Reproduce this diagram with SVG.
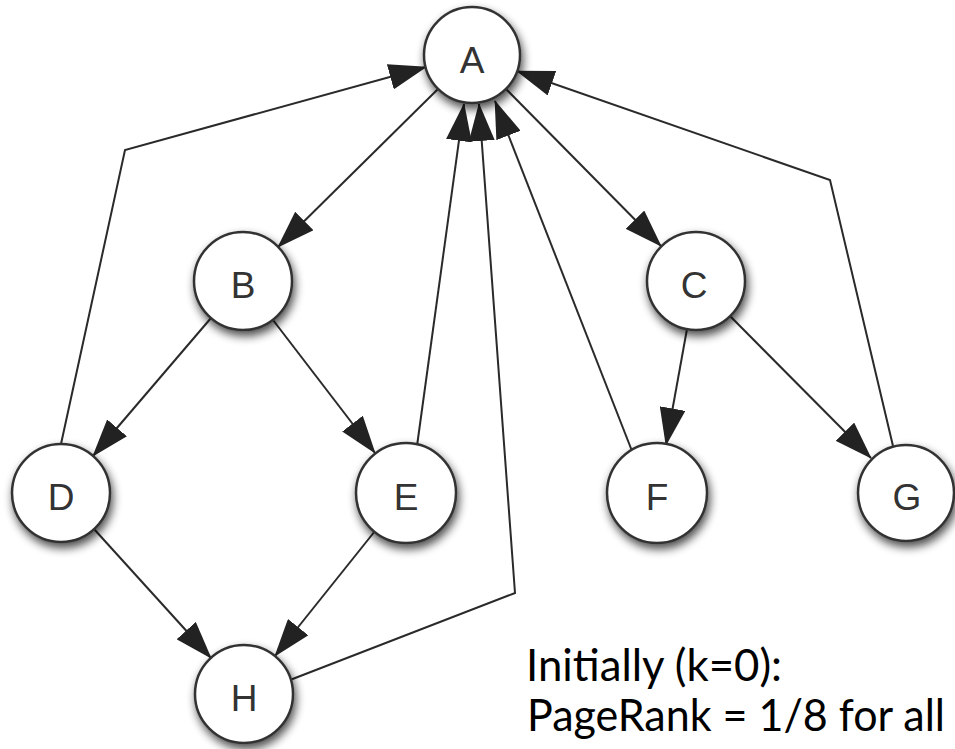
<svg xmlns="http://www.w3.org/2000/svg" width="955" height="749" viewBox="0 0 955 749">
  <defs>
    <filter id="sh" x="-40%" y="-40%" width="180%" height="180%">
      <feGaussianBlur in="SourceAlpha" stdDeviation="5"/>
      <feOffset dx="2" dy="5" result="b"/>
      <feComponentTransfer><feFuncA type="linear" slope="0.7"/></feComponentTransfer>
      <feMerge><feMergeNode/><feMergeNode in="SourceGraphic"/></feMerge>
    </filter>
    <marker id="ah" viewBox="0 0 38 26" refX="37" refY="13" markerWidth="38" markerHeight="26" markerUnits="userSpaceOnUse" orient="auto">
      <path d="M0,0 L38,13 L0,26 z" fill="#222"/>
    </marker>
  </defs>
  <style>
    .edge { fill: none; stroke: #2a2a2a; stroke-width: 2; marker-end: url(#ah); }
    .node circle { fill: #fff; stroke: #333; stroke-width: 2.5; filter: url(#sh); }
    .node text { font-family: "Liberation Sans", Arial, sans-serif; font-size: 37px; fill: #333; text-anchor: middle; }
    .note { font-family: Lato, "Open Sans", sans-serif; font-size: 44px; fill: #000; }
  </style>
  <rect width="955" height="749" fill="#fff"/>
  <g id="connectors">
    <path class="edge" d="M438,89 L278,247"/>
    <path class="edge" d="M506,89 L661,246"/>
    <path class="edge" d="M211,318 L93,456"/>
    <path class="edge" d="M273,320 L375,453"/>
    <path class="edge" d="M687,329 L666,445"/>
    <path class="edge" d="M730,316 L871,458"/>
    <path class="edge" d="M94,529 L211,658"/>
    <path class="edge" d="M375,531 L275,656"/>
    <path class="edge" d="M61,444 L125,150 L426,67"/>
    <path class="edge" d="M893,446 L830,180 L517,71"/>
    <path class="edge" d="M417,446 L464,104"/>
    <path class="edge" d="M290,680 L515,593 L479,104"/>
    <path class="edge" d="M632,451 L495,101"/>
  </g>
  <g id="node-A" class="node"><circle cx="472" cy="55" r="48"/><text x="472" y="73">A</text></g>
  <g id="node-B" class="node"><circle cx="243" cy="281" r="49"/><text x="243" y="298">B</text></g>
  <g id="node-C" class="node"><circle cx="696" cy="281" r="49"/><text x="694" y="298">C</text></g>
  <g id="node-D" class="node"><circle cx="61" cy="493" r="49"/><text x="61" y="510">D</text></g>
  <g id="node-E" class="node"><circle cx="406" cy="493" r="50"/><text x="406" y="510">E</text></g>
  <g id="node-F" class="node"><circle cx="657" cy="493" r="50"/><text x="657" y="510">F</text></g>
  <g id="node-G" class="node"><circle cx="906" cy="493" r="48"/><text x="907" y="510">G</text></g>
  <g id="node-H" class="node"><circle cx="244" cy="694" r="49"/><text x="244" y="711">H</text></g>
  <text class="note" x="526" y="681" textLength="256" lengthAdjust="spacingAndGlyphs">Initially (k=0):</text>
  <text class="note" x="527" y="731" textLength="418" lengthAdjust="spacingAndGlyphs">PageRank = 1/8 for all</text>
</svg>
